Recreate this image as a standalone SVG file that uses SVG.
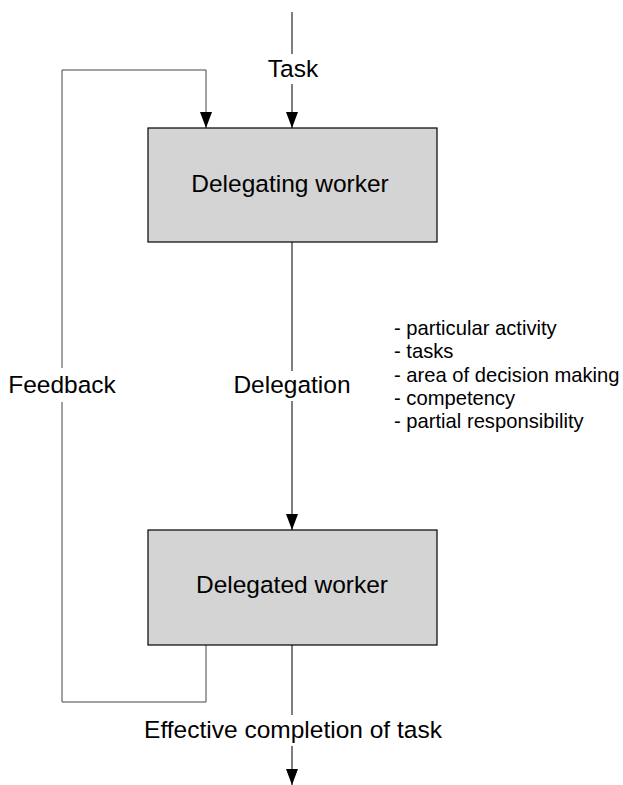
<svg xmlns="http://www.w3.org/2000/svg" width="623" height="785" viewBox="0 0 623 785">
<style>
text{font-family:"Liberation Sans",Arial,sans-serif;fill:#000}
.lbl{font-size:24.5px;text-anchor:middle}
.lst{font-size:20.2px}
.box{fill:#d4d4d4;stroke:#000;stroke-width:1.2}
.ln{fill:none;stroke:#000;stroke-width:1}
.fb{fill:none;stroke:#444;stroke-width:1}
</style>
<defs>
<marker id="ah" markerWidth="16" markerHeight="12" refX="16" refY="6" orient="auto" markerUnits="userSpaceOnUse" viewBox="0 0 16 12">
<path d="M0,0 L16,6 L0,12 z" fill="#000"/>
</marker>
</defs>
<rect width="623" height="785" fill="#fff"/>
<g id="connectors">
<line class="ln" x1="292" y1="12" x2="292" y2="54"/>
<line class="ln" x1="292" y1="84" x2="292" y2="128" marker-end="url(#ah)"/>
<line class="ln" x1="292" y1="242" x2="292" y2="371"/>
<line class="ln" x1="292" y1="401" x2="292" y2="530" marker-end="url(#ah)"/>
<line class="ln" x1="292" y1="645" x2="292" y2="715"/>
<line class="ln" x1="292" y1="746" x2="292" y2="785" marker-end="url(#ah)"/>
<polyline class="fb" points="206,645 206,702 62,702 62,402"/>
<polyline class="fb" points="62,368 62,70 206,70 206,128" marker-end="url(#ah)"/>
</g>
<g id="delegating">
<rect class="box" x="148" y="128" width="289" height="114"/>
<text class="lbl" x="290" y="192">Delegating worker</text>
</g>
<g id="delegated">
<rect class="box" x="148" y="530" width="289" height="115"/>
<text class="lbl" x="292" y="593">Delegated worker</text>
</g>
<g id="labels">
<text class="lbl" x="293" y="77">Task</text>
<text class="lbl" x="62" y="393">Feedback</text>
<text class="lbl" x="292" y="393">Delegation</text>
<text class="lbl" x="293" y="738">Effective completion of task</text>
<text class="lst" x="394" y="335">- particular activity</text>
<text class="lst" x="394" y="358">- tasks</text>
<text class="lst" x="394" y="382">- area of decision making</text>
<text class="lst" x="394" y="405">- competency</text>
<text class="lst" x="394" y="428">- partial responsibility</text>
</g>
</svg>
